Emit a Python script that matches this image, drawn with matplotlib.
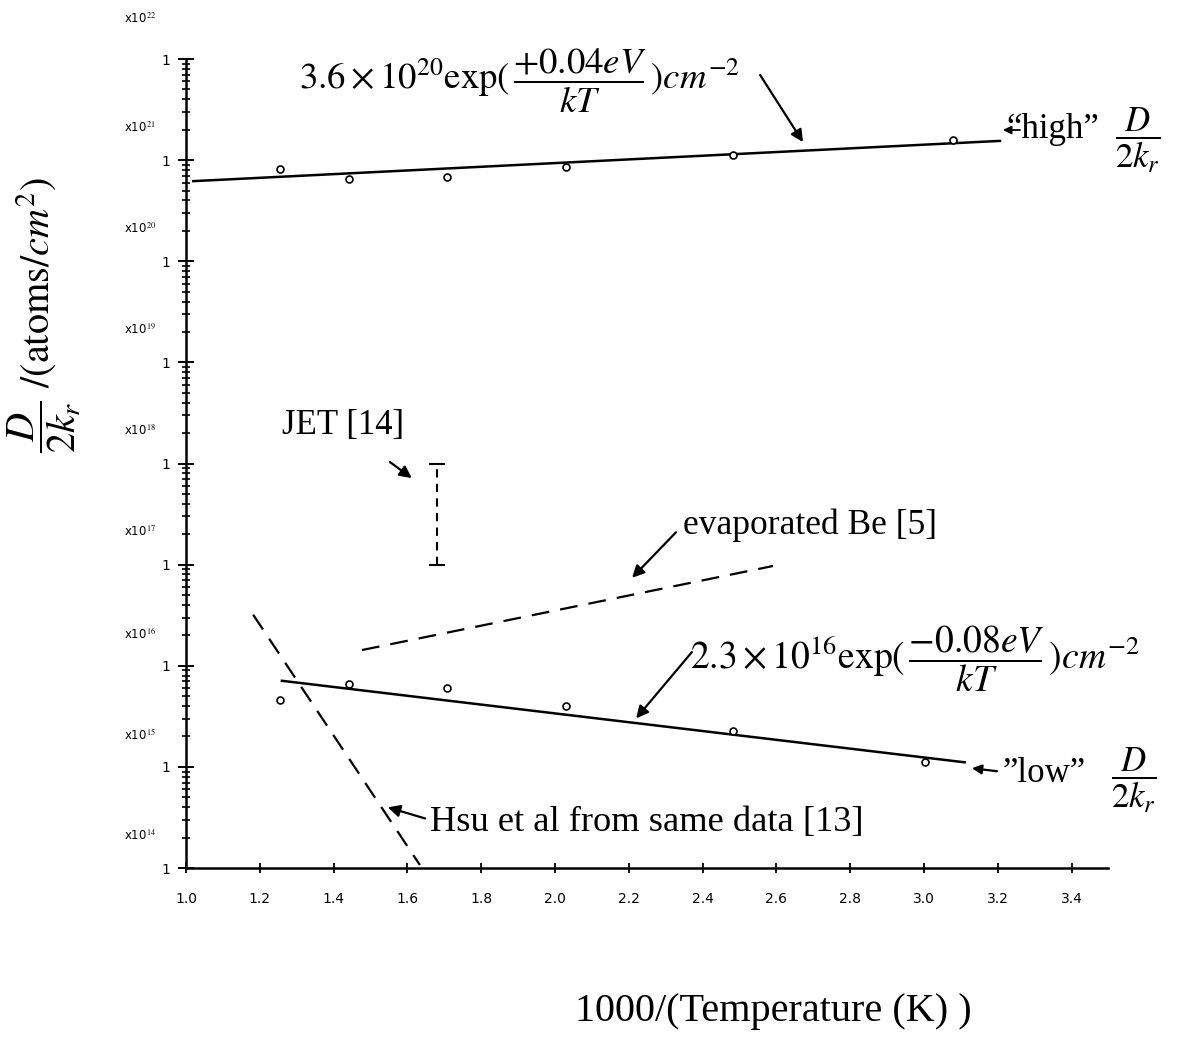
import matplotlib
matplotlib.use("Agg")
import matplotlib.pyplot as plt
import matplotlib.transforms as mtransforms
from matplotlib.ticker import FixedLocator, FixedFormatter, LogLocator, NullFormatter

plt.rcParams['font.family'] = ['Liberation Serif', 'DejaVu Serif']
plt.rcParams['mathtext.fontset'] = 'stix'

# ---- data ----
inv_T = [1.255, 1.442, 1.707, 2.03, 2.482, 3.079]
high_vals = [8.2e20, 6.5e20, 6.8e20, 8.6e20, 1.13e21, 1.58e21]
inv_T_low = [1.255, 1.442, 1.707, 2.03, 2.482, 3.003]
low_vals = [4.6e15, 6.6e15, 6.0e15, 4.0e15, 2.25e15, 1.11e15]

high_fit_x = [1.02, 3.206]
high_fit_y = [6.2e20, 1.55e21]
low_fit_x = [1.26, 3.11]
low_fit_y = [7.1e15, 1.11e15]

evap_x = [1.477, 2.591]
evap_y = [1.43e16, 9.7e16]
hsu_x = [1.182, 1.634]
hsu_y = [3.2e16, 1.07e14]

jet_x = 1.68
jet_lo, jet_hi = 1e17, 1e18

xticks = [1.0, 1.2, 1.4, 1.6, 1.8, 2.0, 2.2, 2.4, 2.6, 2.8, 3.0, 3.2, 3.4]
xticklabels = ['1.0', '1.2', '1.4', '1.6', '1.8', '2.0', '2.2', '2.4', '2.6', '2.8', '3.0', '3.2', '3.4']
decades = [14, 15, 16, 17, 18, 19, 20, 21, 22]

fig = plt.figure(figsize=(11.83, 10.52), dpi=100)
ax = fig.add_axes([0.1572, 0.1749, 0.7798, 0.769])
ax.set_yscale('log')
ax.set_xlim(1.0, 3.5)
ax.set_ylim(1e14, 1e22)

for s in ['top', 'right']:
    ax.spines[s].set_visible(False)
ax.spines['left'].set_linewidth(1.8)
ax.spines['bottom'].set_linewidth(1.8)

ax.xaxis.set_major_locator(FixedLocator(xticks))
ax.xaxis.set_major_formatter(FixedFormatter(xticklabels))
ax.tick_params(axis='x', which='major', direction='inout', length=7, width=1.3,
               labelsize=10, pad=14)
ax.tick_params(axis='x', which='minor', length=0)
for lab in ax.get_xticklabels():
    lab.set_family('DejaVu Sans')

ax.yaxis.set_major_locator(FixedLocator([10.0 ** d for d in decades]))
ax.yaxis.set_major_formatter(FixedFormatter(['1'] * len(decades)))
ax.yaxis.set_minor_locator(LogLocator(base=10, subs=range(2, 10), numticks=50))
ax.yaxis.set_minor_formatter(NullFormatter())
ax.tick_params(axis='y', which='major', direction='inout', length=12, width=1.4,
               labelsize=10, pad=5)
ax.tick_params(axis='y', which='minor', direction='inout', length=6, width=1.2)
for lab in ax.get_yticklabels():
    lab.set_family('DejaVu Sans')

# x10^N labels
trans = mtransforms.blended_transform_factory(ax.transAxes, ax.transData)
for d in decades[:-1]:
    ax.text(-0.05, 10.0 ** d * 2.1, r'x10$^{%d}$' % d, transform=trans, ha='center',
            va='center', fontsize=8.5, family='DejaVu Sans', clip_on=False)
ax.text(-0.05, 10.0 ** 22 * 2.5, r'x10$^{22}$', transform=trans, ha='center',
        va='center', fontsize=8.5, family='DejaVu Sans', clip_on=False)

# data
ax.plot(high_fit_x, high_fit_y, color='black', lw=1.8)
ax.plot(low_fit_x, low_fit_y, color='black', lw=1.8)
ax.plot(inv_T, high_vals, 'o', mfc='white', mec='black', ms=5, mew=1.2)
ax.plot(inv_T_low, low_vals, 'o', mfc='white', mec='black', ms=5, mew=1.2)
ax.plot(evap_x, evap_y, color='black', lw=1.6, ls=(0, (8, 5)))
ax.plot(hsu_x, hsu_y, color='black', lw=1.6, ls=(0, (8, 5)))
ax.plot([jet_x, jet_x], [jet_lo, jet_hi], color='black', lw=1.5, ls=(0, (4, 3)))
ax.plot([jet_x, jet_x], [jet_lo, jet_hi], ls='none', marker='_', ms=12, mew=1.5, color='black')

fs = 25
ffs = 26.5
ap = dict(arrowstyle='-|>', color='black', lw=1.6, mutation_scale=18, shrinkA=0, shrinkB=0)

# high formula
ax.text(1.905, 10 ** 21.79, r'$3.6\times10^{20}\mathrm{exp}(\,\dfrac{+0.04eV}{kT}\,)cm^{-2}$',
        ha='center', va='center', fontsize=ffs, clip_on=False)
ax.annotate('', xy=(2.672, 10 ** 21.179), xytext=(2.556, 10 ** 21.842), arrowprops=ap)

# "high"
ax.annotate('', xy=(3.214, 10 ** 21.298), xytext=(3.26, 10 ** 21.298),
            arrowprops=dict(ap, mutation_scale=12, lw=1.3))
ax.text(3.222, 10 ** 21.30, '\u201chigh\u201d', ha='left', va='center', fontsize=fs,
        clip_on=False)
ax.text(3.58, 10 ** 21.2, r'$\dfrac{D}{2k_r}$', ha='center', va='center', fontsize=fs,
        clip_on=False)

# JET
ax.text(1.425, 10 ** 18.38, 'JET [14]', ha='center', va='center', fontsize=fs)
ax.annotate('', xy=(1.612, 10 ** 17.856), xytext=(1.553, 10 ** 18.014), arrowprops=ap)

# evaporated Be
ax.text(2.347, 10 ** 17.39, 'evaporated Be [5]', ha='left', va='center', fontsize=25.5)
ax.annotate('', xy=(2.209, 10 ** 16.87), xytext=(2.328, 10 ** 17.32), arrowprops=ap)

# low formula
ax.text(2.366, 10 ** 16.075, r'$2.3\times10^{16}\mathrm{exp}(\,\dfrac{-0.08eV}{kT}\,)cm^{-2}$',
        ha='left', va='center', fontsize=ffs + 0.5, clip_on=False)
ax.annotate('', xy=(2.22, 10 ** 15.48), xytext=(2.371, 10 ** 16.135), arrowprops=ap)

# "low"
ax.annotate('', xy=(3.13, 10 ** 14.987), xytext=(3.198, 10 ** 14.957),
            arrowprops=dict(ap, mutation_scale=14, lw=1.6))
ax.text(3.214, 10 ** 14.937, '\u201dlow\u201d', ha='left', va='center', fontsize=fs,
        clip_on=False)
ax.text(3.57, 10 ** 14.87, r'$\dfrac{D}{2k_r}$', ha='center', va='center', fontsize=fs,
        clip_on=False)

# Hsu
ax.text(1.661, 10 ** 14.453, 'Hsu et al from same data [13]', ha='left', va='center',
        fontsize=26.2)
ax.annotate('', xy=(1.547, 10 ** 14.6), xytext=(1.648, 10 ** 14.49), arrowprops=ap)

# axis labels
fig.text(773 / 1183, 1 - 1012 / 1052, '1000/(Temperature (K) )', ha='center', va='center',
         fontsize=29)
fig.text(44 / 1183, 1 - 315 / 1052, r'$\dfrac{D}{2k_r}\ /(\mathrm{atoms}/cm^2)$',
         rotation=90, ha='center', va='center', fontsize=29)

fig.savefig('out.png', dpi=100)
